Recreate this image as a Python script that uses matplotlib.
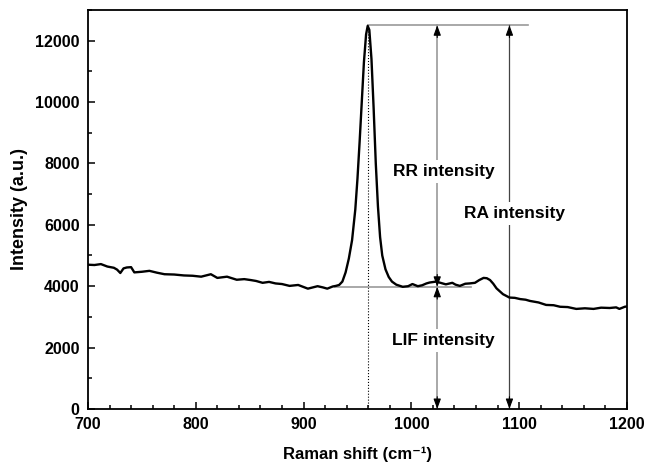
import matplotlib
matplotlib.use("Agg")
import matplotlib.pyplot as plt
from matplotlib.ticker import MultipleLocator

plt.rcParams['font.family'] = ['Liberation Sans', 'DejaVu Sans']
plt.rcParams['font.weight'] = 'bold'
plt.rcParams['mathtext.default'] = 'bf'

# Raman spectrum
shift = [700, 706, 712, 718, 724, 727, 730, 733, 736, 740, 743, 750, 757, 764, 771,
         780, 789, 797, 805, 814, 820, 829, 838, 845, 851, 856, 862, 868, 874, 880,
         887, 895, 904, 913, 918, 922, 927, 930, 933, 936, 939, 942, 945, 948, 950,
         952, 954, 956, 958, 959.5, 961, 963, 965, 967, 969, 971, 973, 976, 979, 982,
         986, 992, 997, 1001, 1006, 1010, 1014, 1017, 1023, 1028, 1032, 1038, 1041,
         1045, 1050, 1054, 1059, 1063, 1067, 1070, 1073, 1076, 1079, 1085, 1091, 1096,
         1101, 1106, 1110, 1118, 1125, 1132, 1138, 1145, 1153, 1161, 1169, 1176, 1184,
         1190, 1193, 1198, 1200]
intensity = [4700, 4690, 4720, 4640, 4600, 4540, 4430, 4580, 4610, 4620, 4450, 4470,
             4500, 4440, 4390, 4380, 4350, 4340, 4310, 4390, 4270, 4310, 4210, 4230,
             4200, 4170, 4110, 4140, 4090, 4070, 4010, 4040, 3920, 4000, 3960, 3920,
             3990, 4010, 4040, 4150, 4450, 4900, 5500, 6500, 7500, 8700, 10000, 11300,
             12200, 12480, 12350, 11400, 9800, 8000, 6600, 5600, 5000, 4550, 4300, 4150,
             4050, 3980, 4000, 4070, 4000, 4030, 4090, 4120, 4150, 4100, 4060, 4110,
             4050, 4010, 4080, 4090, 4110, 4200, 4270, 4260, 4200, 4080, 3930, 3740,
             3630, 3620, 3580, 3560, 3520, 3470, 3390, 3380, 3330, 3320, 3260, 3280,
             3260, 3300, 3290, 3310, 3260, 3330, 3340]

# annotation levels
peak_pos = 960
peak_top = 12500
baseline = 3980
rr_x = 1024
ra_x = 1091

fig = plt.figure(figsize=(6.45, 4.72), dpi=100)
ax = fig.add_axes([0.1364, 0.1335, 0.8356, 0.8455])

ax.plot(shift, intensity, color='black', lw=1.7, zorder=3)

# helper lines
ax.plot([peak_pos, peak_pos], [0, 12450], color='black', lw=0.8, ls=':', zorder=2)
ax.plot([929, 1055], [baseline, baseline], color='#999999', lw=1.2, zorder=2)
ax.plot([peak_pos, 1108], [peak_top, peak_top], color='#999999', lw=1.2, zorder=2)

# vertical lines of the arrows
ax.plot([rr_x, rr_x], [0, peak_top], color='#999999', lw=1.2, zorder=2)
ax.plot([ra_x, ra_x], [0, peak_top], color='#444444', lw=0.9, zorder=2)


# black arrow heads at the ends
def head(x, y_from, y_to):
    ax.annotate('', xy=(x, y_to), xytext=(x, y_from),
                arrowprops=dict(arrowstyle='-|>,head_length=0.6,head_width=0.22',
                                color='black', lw=0.8, shrinkA=0, shrinkB=0), zorder=2)


head(rr_x, peak_top - 400, peak_top)
head(rr_x, baseline + 400, baseline)
head(rr_x, baseline - 400, baseline)
head(rr_x, 400, 0)
head(ra_x, peak_top - 400, peak_top)
head(ra_x, 400, 0)

box = dict(facecolor='white', edgecolor='none', pad=3)
ax.text(1030, 7740, 'RR intensity', ha='center', va='center', fontsize=12.5,
        fontweight='bold', bbox=box, zorder=4)
ax.text(1096, 6370, 'RA intensity', ha='center', va='center', fontsize=12.5,
        fontweight='bold', bbox=box, zorder=4)
ax.text(1030, 2240, 'LIF intensity', ha='center', va='center', fontsize=12.5,
        fontweight='bold', bbox=box, zorder=4)

ax.set_xlim(700, 1200)
ax.set_ylim(0, 13000)
ax.xaxis.set_major_locator(MultipleLocator(100))
ax.xaxis.set_minor_locator(MultipleLocator(20))
ax.yaxis.set_major_locator(MultipleLocator(2000))
ax.yaxis.set_minor_locator(MultipleLocator(1000))
ax.tick_params(which='both', direction='in', top=False, right=False, width=1.1)
ax.tick_params(which='major', length=5, labelsize=11.5, pad=6)
ax.tick_params(which='minor', length=2.8)
for s in ax.spines.values():
    s.set_linewidth(1.3)

ax.set_xlabel('Raman shift (cm\u207b\u00b9)', fontsize=12, fontweight='bold', labelpad=10)
ax.set_ylabel('Intensity (a.u.)', fontsize=13, fontweight='bold', labelpad=5)

fig.savefig('out.png', dpi=100)
